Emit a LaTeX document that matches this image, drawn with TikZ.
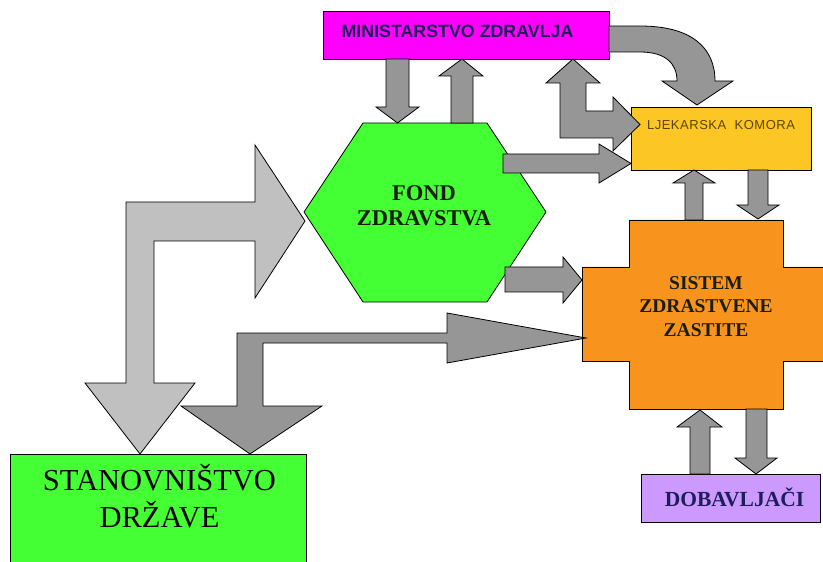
\documentclass[tikz,border=0pt]{standalone}
\usepackage{fontspec}
\setmainfont{Liberation Serif}
\setsansfont{Liberation Sans}
\definecolor{magentabox}{RGB}{255,0,255}
\definecolor{greenbox}{RGB}{68,255,51}
\definecolor{goldbox}{RGB}{252,198,36}
\definecolor{orangebox}{RGB}{248,148,29}
\definecolor{lilacbox}{RGB}{204,153,255}
\definecolor{arrdark}{RGB}{150,150,150}
\definecolor{arrlight}{RGB}{192,192,192}
\definecolor{navytxt}{RGB}{30,30,90}
\definecolor{olivetxt}{RGB}{90,70,0}
\definecolor{darktxt}{RGB}{25,30,10}
\begin{document}
\begin{tikzpicture}[x=1bp,y=-1bp,line join=miter,
  blk/.style={draw=black,line width=0.8bp},
  darkarr/.style={blk,fill=arrdark},
  lightarr/.style={blk,fill=arrlight},
  boxnode/.style={blk,anchor=north west,inner sep=0pt}]
\useasboundingbox (0,0) rectangle (823,562);
\clip (0,0) rectangle (823,562);

% ---- shapes ----
\node[boxnode,fill=magentabox,minimum width=286bp,minimum height=48bp] (minbox) at (323,11) {};
\node[boxnode,fill=goldbox,minimum width=180bp,minimum height=63bp] (ljkbox) at (631,107) {};
\node[boxnode,fill=greenbox,minimum width=296bp,minimum height=130bp] (stanbox) at (10,454) {};
\node[boxnode,fill=lilacbox,minimum width=179bp,minimum height=48bp] (dobbox) at (641,474) {};

% hexagon
\draw[blk,fill=greenbox] (363,123) -- (487,123) -- (546,212) -- (487,302) -- (363,302) -- (304,212) -- cycle;
% cross
\draw[blk,fill=orangebox] (629,220) -- (783,220) -- (783,267) -- (840,267) -- (840,361) -- (783,361)
  -- (783,409) -- (629,409) -- (629,361) -- (582,361) -- (582,267) -- (629,267) -- cycle;

% ---- texts ----
\node[text=navytxt,font=\sffamily\bfseries\fontsize{17.8bp}{20bp}\selectfont] (mintext) at (457.5,31) {MINISTARSTVO ZDRAVLJA};
\node[text=olivetxt,font=\sffamily\fontsize{13bp}{15bp}\selectfont\addfontfeatures{LetterSpace=4}] (ljktext) at (721,125) {LJEKARSKA\ \ KOMORA};
\node[text=darktxt,align=center,font=\bfseries\fontsize{22.5bp}{25bp}\selectfont] (fond) at (424,205.5) {FOND\\ZDRAVSTVA};
\node[text=darktxt,align=center,font=\bfseries\fontsize{19.5bp}{23.5bp}\selectfont] (sistem) at (706,306.5) {SISTEM\\ZDRASTVENE\\ZASTITE};
\node[text=black,align=center,font=\fontsize{30.5bp}{37bp}\selectfont] (stan) at (159.5,496.5) {STANOVNIŠTVO\\DRŽAVE};
\node[text=navytxt,font=\bfseries\fontsize{21.5bp}{24bp}\selectfont] (dobtext) at (734.5,497) {DOBAVLJAČI};

% ---- block arrows ----
% ministry -> fond
\draw[darkarr] (386,59) -- (409,59) -- (409,107) -- (419,107) -- (397.5,123) -- (376,107) -- (386,107) -- cycle;
% fond -> ministry
\draw[darkarr] (451,123) -- (451,76) -- (439,76) -- (462,59) -- (483,76) -- (473,76) -- (473,123) -- cycle;
% ministry -> ljekarska (curved)
\draw[darkarr] (609,26) -- (640,26) .. controls (692,26) and (715,48) .. (715,81) -- (733,81) -- (697,105)
  -- (662,81) -- (677,81) .. controls (677,63) and (665,52) .. (640,52) -- (609,52) -- cycle;
% ljekarska <-> ministry (bent double arrow)
\draw[darkarr] (573,59) -- (600,83) -- (586,83) -- (586,111) -- (613,111) -- (613,97) -- (640,124.5)
  -- (613,151) -- (613,138) -- (560,138) -- (560,83) -- (546,83) -- cycle;
% fond -> ljekarska
\draw[darkarr] (503,154) -- (599,154) -- (599,144) -- (631,163.5) -- (599,183) -- (599,173) -- (503,173) -- cycle;
% fond -> sistem
\draw[darkarr] (505,267) -- (563,267) -- (563,257) -- (582,280) -- (563,303) -- (563,292) -- (505,292) -- cycle;
% sistem -> ljekarska
\draw[darkarr] (685,220) -- (685,183) -- (673,183) -- (694,170) -- (715,183) -- (703,183) -- (703,220) -- cycle;
% ljekarska -> sistem
\draw[darkarr] (748,170) -- (768,170) -- (768,205) -- (779,205) -- (758,219) -- (737,205) -- (748,205) -- cycle;
% dobavljaci -> sistem
\draw[darkarr] (690,474) -- (690,427) -- (677,427) -- (700,410) -- (722,427) -- (710,427) -- (710,474) -- cycle;
% sistem -> dobavljaci
\draw[darkarr] (746,409) -- (767,409) -- (767,458) -- (777,458) -- (756,474) -- (735,458) -- (746,458) -- cycle;
% stanovnistvo <-> fond (light)
\draw[lightarr] (305,221) -- (255,298) -- (255,241) -- (154,241) -- (154,383) -- (195,383) -- (140,454)
  -- (85,383) -- (126,383) -- (126,202) -- (255,202) -- (255,145) -- cycle;
% sistem <-> stanovnistvo (dark)
\draw[darkarr] (586,338) -- (447,363) -- (447,343) -- (263,343) -- (263,406) -- (322,406) -- (250,454)
  -- (181,406) -- (237,406) -- (237,333) -- (447,333) -- (447,313) -- cycle;
\end{tikzpicture}
\end{document}
